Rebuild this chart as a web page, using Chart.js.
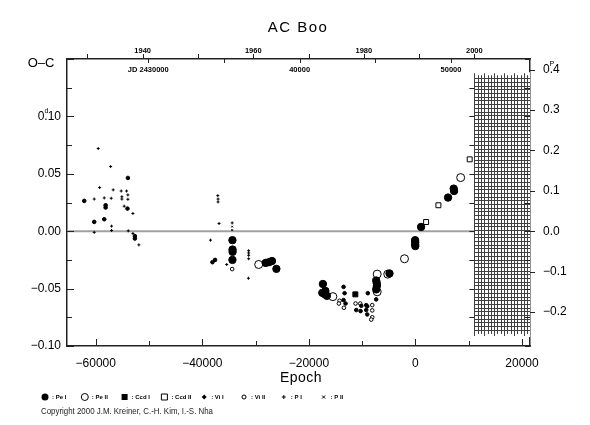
<!DOCTYPE html>
<html>
<head>
<meta charset="utf-8">
<script src="https://cdn.jsdelivr.net/npm/chart.js@4"></script>
<style>
    body { margin: 0; background: #fff; }
</style>
</head>
<body>
<canvas id="ocChart" width="590" height="425"></canvas>
<script>
// ephemeris used for the JD / year / phase axes
var PERIOD = 0.352;
var T0 = 2447652;

// O-C points: [epoch, O-C in days]
var peI = [[-34350, -0.0078], [-34330, -0.016], [-34320, -0.018], [-34350, -0.025],
    [-28110, -0.0276], [-27490, -0.027], [-26930, -0.026], [-26100, -0.0328],
    [-17370, -0.046], [-17490, -0.0537], [-17050, -0.0548], [-16620, -0.0563], [-16900, -0.052],
    [-7370, -0.043], [-7250, -0.0455], [-7250, -0.0478], [-7370, -0.0507], [-4870, -0.0368],
    [-60, -0.0078], [-40, -0.0096], [-50, -0.0113], [-30, -0.013],
    [1060, 0.0037], [6120, 0.0293], [7180, 0.0371], [7250, 0.035]];
var peII = [[-29420, -0.029], [-15500, -0.057], [-7180, -0.0374], [-7180, -0.0528],
    [-5190, -0.0374], [-2060, -0.024], [8490, 0.0467]];
var ccdI = [[-11280, -0.055]];
var ccdII = [[2000, 0.008], [4310, 0.0226], [10180, 0.0626]];
var viI = [[-62160, 0.0264], [-60290, 0.0081], [-58410, 0.0104], [-58150, 0.0226], [-58150, 0.0206],
    [-53970, 0.0464], [-54050, 0.0197], [-52660, -0.0043], [-52660, -0.0064], [-38100, -0.027],
    [-37610, -0.025], [-13490, -0.0485], [-13300, -0.054], [-13490, -0.060], [-13120, -0.063],
    [-11110, -0.0687], [-10300, -0.0696], [-10170, -0.065], [-8940, -0.054], [-9240, -0.0644],
    [-9050, -0.0655], [-9240, -0.0687], [-9050, -0.0725], [-7370, -0.0594]];
var viII = [[-34400, -0.033], [-14240, -0.0606], [-14370, -0.063], [-13430, -0.0667], [-11240, -0.063],
    [-10360, -0.063], [-8110, -0.0644], [-8110, -0.069], [-8110, -0.075], [-8300, -0.077]];
var pI = [[-59540, 0.072], [-60290, 0.028], [-60290, -0.001], [-59270, 0.038], [-58410, 0.029],
    [-57210, 0.0563], [-57100, 0.0287], [-57030, 0.0044], [-57030, 0.0006], [-56730, 0.036],
    [-55230, 0.035], [-55100, 0.030], [-55100, 0.028], [-54670, 0.0218], [-54220, 0.035],
    [-53970, 0.0316], [-53970, 0.0278], [-53900, 0.0003], [-53030, 0.0154], [-53030, -0.002],
    [-51910, -0.0119], [-37100, 0.031], [-37050, 0.028], [-37050, 0.0255], [-36860, 0.0067],
    [-34400, 0.0072], [-38470, -0.0078], [-35420, -0.029], [-31300, -0.017], [-31300, -0.019],
    [-31300, -0.021], [-31300, -0.024], [-31350, -0.041]];
var pII = [[-34400, 0.004], [-34400, 0.001]];

var seriesNames = ['Pe I', 'Pe II', 'Ccd I', 'Ccd II', 'Vi I', 'Vi II', 'P I', 'P II'];

// axis ranges and labels
var epochMin = -65400, epochMax = 21500;
var ocMin = -0.10, ocMax = 0.15;
var epochLabels = [-60000, -40000, -20000, 0, 20000];
var ocLabels = [-0.10, -0.05, 0.00, 0.05, 0.10];
var phaseLabels = [-0.2, -0.1, 0.0, 0.1, 0.2, 0.3, 0.4];
var yearLabels = [1940, 1960, 1980, 2000];
var jdTicks = [2430000, 2435000, 2440000, 2445000, 2450000];
var jdLabels = ['JD 2430000', '', '40000', '', '50000'];
// region not yet covered (hatched)
var futureStart = 11060, futureTop = 0.135, futureBottom = -0.0887;

function yearOf(e) { return 2000 + (T0 + PERIOD * e - 2451544.5) / 365.25; }
function epochOfJD(jd) { return (jd - T0) / PERIOD; }
function minus(s) { return s.replace('-', '\u2212'); }

var FONT = 'Liberation Sans, Arial, sans-serif';

function serie(label, pts, style, r, filled) {
    return {
        label: label,
        data: pts.map(function (p) { return { x: p[0], y: p[1] }; }),
        pointStyle: style,
        pointRadius: r,
        pointBackgroundColor: filled ? '#000' : '#fff',
        pointBorderColor: '#000',
        pointBorderWidth: 1
    };
}

function drawMarker(ctx, i, x, y) {
    ctx.save();
    ctx.fillStyle = '#000'; ctx.strokeStyle = '#000'; ctx.lineWidth = 1;
    ctx.beginPath();
    if (i === 0 || i === 1) { ctx.arc(x, y, 3.5, 0, Math.PI * 2); }
    else if (i === 2 || i === 3) { ctx.rect(x - 3, y - 3, 6, 6); }
    else if (i === 4) { ctx.moveTo(x, y - 2.5); ctx.lineTo(x + 2.5, y); ctx.lineTo(x, y + 2.5); ctx.lineTo(x - 2.5, y); ctx.closePath(); }
    else if (i === 5) { ctx.arc(x, y, 2, 0, Math.PI * 2); }
    if (i === 0 || i === 2 || i === 4) ctx.fill();
    else if (i === 1 || i === 3 || i === 5) ctx.stroke();
    else if (i === 6) { ctx.moveTo(x - 2, y); ctx.lineTo(x + 2, y); ctx.moveTo(x, y - 2); ctx.lineTo(x, y + 2); ctx.stroke(); }
    else { ctx.moveTo(x - 1.5, y - 1.5); ctx.lineTo(x + 1.5, y + 1.5); ctx.moveTo(x + 1.5, y - 1.5); ctx.lineTo(x - 1.5, y + 1.5); ctx.stroke(); }
    ctx.restore();
}

function hline(ctx, x0, x1, y) { ctx.beginPath(); ctx.moveTo(x0, Math.round(y) + 0.5); ctx.lineTo(x1, Math.round(y) + 0.5); ctx.stroke(); }
function vline(ctx, x, y0, y1) { ctx.beginPath(); ctx.moveTo(Math.round(x) + 0.5, y0); ctx.lineTo(Math.round(x) + 0.5, y1); ctx.stroke(); }

var decor = {
    id: 'decor',
    beforeDatasetsDraw: function (chart) {
        var ctx = chart.ctx, a = chart.chartArea, x = chart.scales.x, y = chart.scales.y;
        ctx.save();
        // zero line
        ctx.strokeStyle = '#a0a0a0'; ctx.lineWidth = 2;
        ctx.beginPath(); ctx.moveTo(a.left, y.getPixelForValue(0)); ctx.lineTo(a.right, y.getPixelForValue(0)); ctx.stroke();
        // hatched area
        var hx0 = x.getPixelForValue(futureStart), hx1 = a.right;
        var hy0 = y.getPixelForValue(futureTop), hy1 = y.getPixelForValue(futureBottom);
        ctx.fillStyle = '#fff'; ctx.fillRect(hx0, hy0 - 4, hx1 - hx0, hy1 - hy0 + 8);
        ctx.strokeStyle = '#404040'; ctx.lineWidth = 1;
        var k = 0;
        for (var px = hx0; px <= hx1; px += 3.3, k++) {
            var ext = (k % 3 === 0) ? 3 : 1;
            vline(ctx, px, hy0 - ext, hy1 + ext);
        }
        for (var py = hy0 + 2; py <= hy1; py += 3.7) hline(ctx, hx0, hx1, py);
        ctx.restore();
    },
    afterDraw: function (chart) {
        var ctx = chart.ctx, a = chart.chartArea;
        var x = chart.scales.x, y = chart.scales.y, y2 = chart.scales.y2, xt = chart.scales.xTop;
        ctx.save();
        ctx.strokeStyle = '#222'; ctx.lineWidth = 1;
        var hx0 = x.getPixelForValue(futureStart);
        var hy0 = y.getPixelForValue(futureTop), hy1 = y.getPixelForValue(futureBottom);
        // left axis ticks (inward) + mirrored on right side
        for (var i = 0; i <= 10; i++) {
            var v = ocMin + i * 0.025, py = y.getPixelForValue(v);
            var major = (i % 2 === 0);
            hline(ctx, a.left, a.left + (major ? 7 : 5), py);
            hline(ctx, a.right - 5, a.right, py);
            if (py > hy0 && py < hy1) hline(ctx, hx0 - 5, hx0, py);
        }
        // right axis ticks (outward)
        phaseLabels.forEach(function (v) { hline(ctx, a.right, a.right + 5, y2.getPixelForValue(v)); });
        // bottom ticks (inward)
        for (var e = -60000; e <= 20000; e += 10000) {
            vline(ctx, x.getPixelForValue(e), a.bottom - (e % 20000 === 0 ? 7 : 5), a.bottom);
        }
        // year ticks (outward, top)
        for (var yr = 1930; yr <= 2000; yr += 10) {
            vline(ctx, xt.getPixelForValue(yr), a.top - 5, a.top);
        }
        // JD ticks (inward, top) and labels
        ctx.font = 'bold 7.5px ' + FONT;
        ctx.fillStyle = '#000'; ctx.textAlign = 'center'; ctx.textBaseline = 'middle';
        jdTicks.forEach(function (jd, j) {
            var px = x.getPixelForValue(epochOfJD(jd));
            vline(ctx, px, a.top, a.top + 4);
            if (jdLabels[j]) ctx.fillText(jdLabels[j], px, a.top + 11);
        });
        // superscript units
        ctx.font = '12px ' + FONT;
        var yv = y.getPixelForValue(0.10);
        var xr = a.left - 6;
        var dotX = xr - ctx.measureText('10').width - ctx.measureText('.').width / 2;
        var yp = y2.getPixelForValue(0.4);
        var xl = a.right + 13;
        var dotP = xl + ctx.measureText('0').width + ctx.measureText('.').width / 2;
        ctx.font = '7px ' + FONT;
        ctx.fillText('d', dotX + 0.5, yv - 5.5);
        ctx.fillText('P', dotP + 0.5, yp - 5.5);
        // titles
        ctx.letterSpacing = '1.5px';
        ctx.font = '15px ' + FONT;
        ctx.fillText('AC Boo', 298, 28);
        ctx.letterSpacing = '0.5px';
        ctx.font = '14px ' + FONT;
        ctx.fillText('Epoch', 301, 378);
        ctx.letterSpacing = '0px';
        ctx.font = '13px ' + FONT;
        ctx.fillText('O\u2013C', 41, 63);
        // legend
        seriesNames.forEach(function (name, n) {
            var mx = 45 + n * 39.8;
            drawMarker(ctx, n, mx, 397);
            ctx.font = 'bold 6px ' + FONT;
            ctx.textAlign = 'left';
            ctx.fillText(': ' + name, mx + 7, 397.5);
        });
        // copyright
        ctx.font = '9.5px ' + FONT;
        ctx.textAlign = 'left';
        ctx.fillStyle = '#222';
        ctx.fillText('Copyright 2000 J.M. Kreiner, C.-H. Kim, I.-S. Nha', 41, 411, 172);
        ctx.restore();
    }
};

var noGrid = { display: false, drawTicks: false };

function fixTicks(values) {
    return function (s) { s.ticks = values.map(function (v) { return { value: v }; }); };
}

var ctx = document.getElementById('ocChart').getContext('2d');
var ocChart = new Chart(ctx, {
    type: 'scatter',
    data: {
        datasets: [
            serie('Pe I', peI, 'circle', 3.7, true),
            serie('Pe II', peII, 'circle', 4, false),
            serie('Ccd I', ccdI, 'rect', 3.5, true),
            serie('Ccd II', ccdII, 'rect', 3.5, false),
            serie('Vi I', viI, 'circle', 1.8, true),
            serie('Vi II', viII, 'circle', 1.8, false),
            serie('P I', pI, 'cross', 1.5, false),
            serie('P II', pII, 'crossRot', 1.2, false)
        ]
    },
    options: {
        responsive: false,
        animation: false,
        events: [],
        layout: { padding: 0 },
        plugins: { legend: { display: false }, tooltip: { enabled: false } },
        scales: {
            x: {
                type: 'linear', position: 'bottom', min: epochMin, max: epochMax,
                grid: noGrid,
                border: { color: '#222', width: 1.5 },
                afterBuildTicks: fixTicks(epochLabels),
                ticks: {
                    autoSkip: false, maxRotation: 0, padding: 10,
                    color: '#000', font: { family: FONT, size: 12 },
                    callback: function (v) { return minus(String(v)); }
                },
                afterFit: function (s) { s.height = 79; }
            },
            xTop: {
                type: 'linear', position: 'top', min: yearOf(epochMin), max: yearOf(epochMax),
                grid: noGrid,
                border: { color: '#222', width: 1.5 },
                afterBuildTicks: fixTicks(yearLabels),
                ticks: {
                    autoSkip: false, maxRotation: 0, padding: 4,
                    color: '#000', font: { family: FONT, size: 7.5, weight: 'bold' },
                    callback: function (v) { return String(v); }
                },
                afterFit: function (s) { s.height = 59; }
            },
            y: {
                type: 'linear', position: 'left', min: ocMin, max: ocMax,
                grid: noGrid,
                border: { color: '#222', width: 1.5 },
                afterBuildTicks: fixTicks(ocLabels),
                ticks: {
                    autoSkip: false, padding: 6,
                    color: '#000', font: { family: FONT, size: 12 },
                    callback: function (v) { return minus(v.toFixed(2)); }
                },
                afterFit: function (s) { s.width = 67; }
            },
            y2: {
                type: 'linear', position: 'right', min: ocMin / PERIOD, max: ocMax / PERIOD,
                grid: noGrid,
                border: { color: '#222', width: 1.5 },
                afterBuildTicks: fixTicks(phaseLabels),
                ticks: {
                    autoSkip: false, padding: 13,
                    color: '#000', font: { family: FONT, size: 12 },
                    callback: function (v) { return minus(v.toFixed(1)); }
                },
                afterFit: function (s) { s.width = 60; }
            }
        }
    },
    plugins: [decor]
});
</script>
</body>
</html>
